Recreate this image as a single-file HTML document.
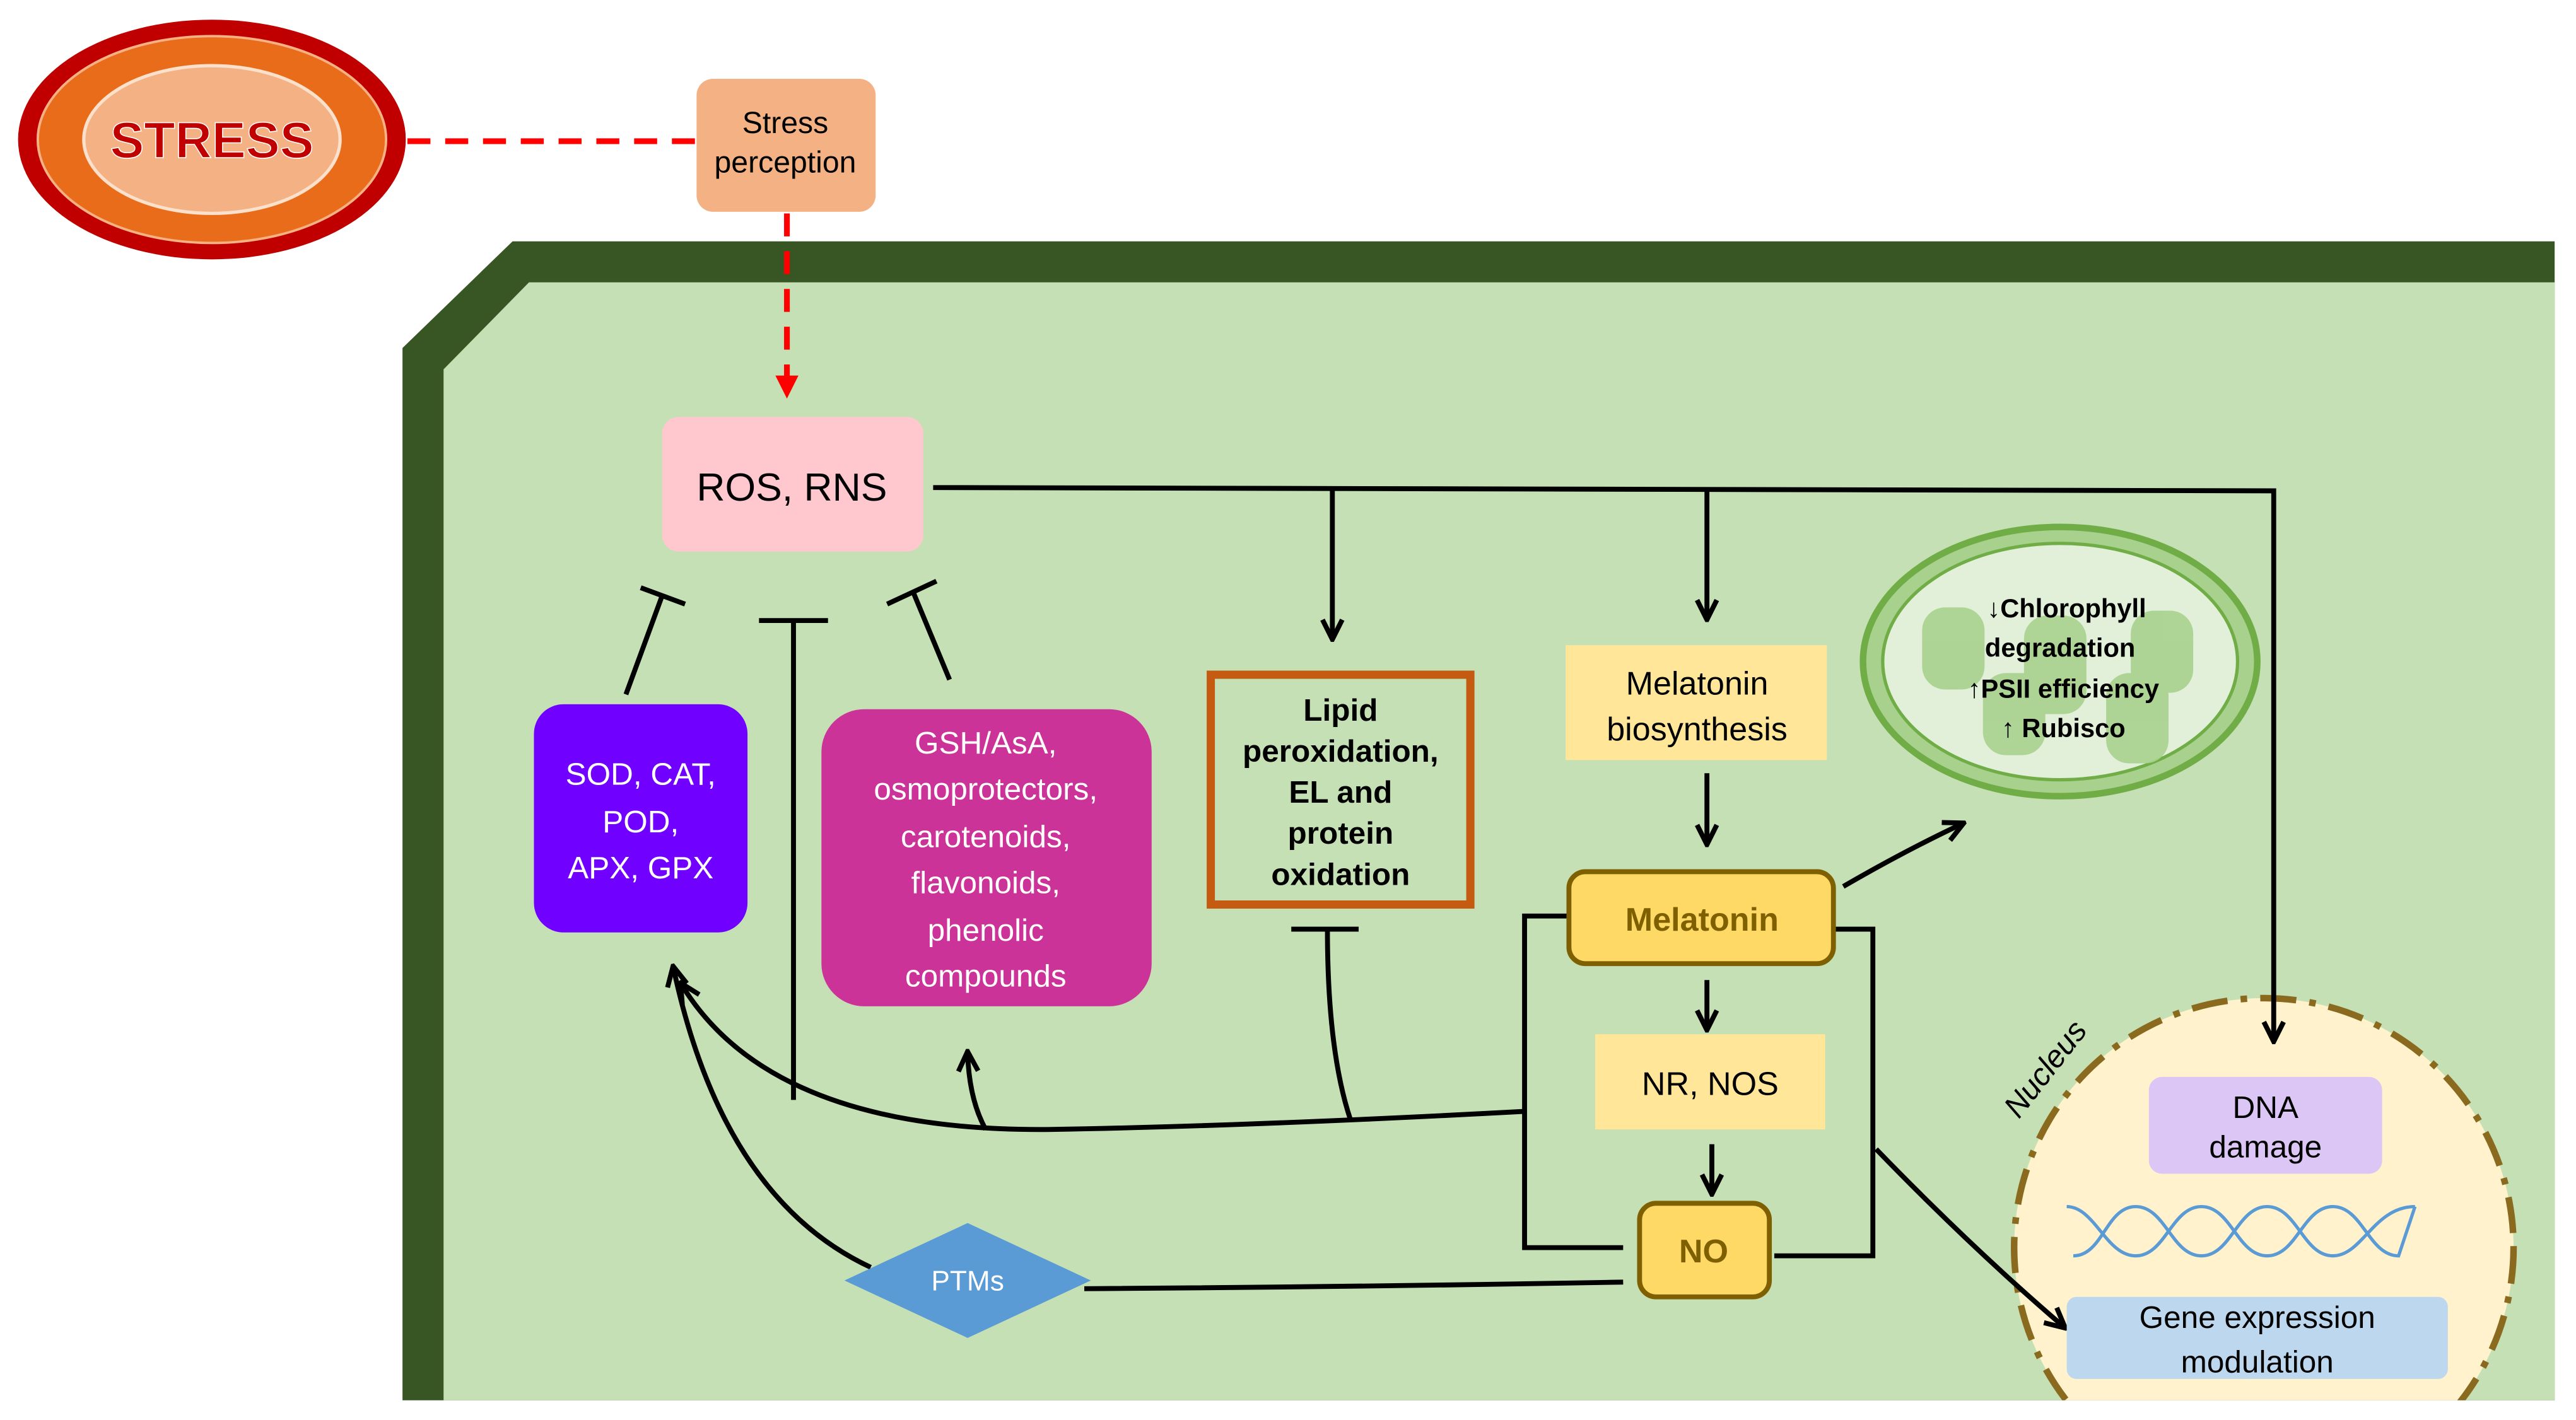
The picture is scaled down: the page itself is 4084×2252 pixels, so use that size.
<!DOCTYPE html>
<html><head><meta charset="utf-8"><style>
html,body{margin:0;padding:0;background:#fff;overflow:hidden;width:4084px;height:2252px;}
svg{display:block;}
text{font-family:"Liberation Sans",sans-serif;}
</style></head><body>
<svg width="4084" height="2252" viewBox="0 0 1568 865" preserveAspectRatio="none" xmlns="http://www.w3.org/2000/svg">
<defs>
<marker id="ah" viewBox="0 0 10 10" refX="8" refY="5" markerWidth="5" markerHeight="5" orient="auto-start-reverse"><path d="M1,1 L9,5 L1,9" fill="none" stroke="#000" stroke-width="2"/></marker>
<marker id="rh" viewBox="0 0 10 10" refX="8" refY="5" markerWidth="4" markerHeight="4" orient="auto"><path d="M0,0 L10,5 L0,10z" fill="#f00"/></marker>
<clipPath id="cp"><rect x="0" y="0" width="1555" height="853"/></clipPath>
</defs>
<polygon points="245,853 245,212 312,147 1555,147 1555,853" fill="#375623"/>
<polygon points="270,853 270,225 322,172 1555,172 1555,853" fill="#c5e0b4"/>
<g clip-path="url(#cp)">
<circle cx="1378" cy="760" r="152" fill="#fff2cc" stroke="#8a6a1f" stroke-width="4" stroke-dasharray="22,8,4,8"/>
</g>
<ellipse cx="129" cy="85" rx="118" ry="73" fill="#c00000"/>
<ellipse cx="129" cy="85" rx="106" ry="63" fill="#e96c1a" stroke="#f4b183" stroke-width="1.5"/>
<ellipse cx="129" cy="85" rx="78" ry="45" fill="#f4b183" stroke="#fbe0cc" stroke-width="2"/>
<text x="129" y="96" font-size="31" font-weight="bold" fill="#c00000" stroke="#fff" stroke-width="0.6" text-anchor="middle">STRESS</text>
<line x1="248" y1="86" x2="424" y2="86" stroke="#f00" stroke-width="3.5" stroke-dasharray="14,9"/>
<rect x="424" y="48" width="109" height="81" rx="10" fill="#f4b183"/>
<text x="478" y="81" font-size="18.5" text-anchor="middle">Stress</text>
<text x="478" y="105" font-size="18.5" text-anchor="middle">perception</text>
<line x1="479" y1="130" x2="479" y2="240" stroke="#f00" stroke-width="3.5" stroke-dasharray="14,9" marker-end="url(#rh)"/>
<rect x="403" y="254" width="159" height="82" rx="10" fill="#ffc7ce"/>
<text x="482" y="305" font-size="24" text-anchor="middle">ROS, RNS</text>
<g stroke="#000" stroke-width="3" fill="none">
<polyline points="568,297 1384,299 1384,633" marker-end="url(#ah)"/>
<line x1="811" y1="298" x2="811" y2="388" marker-end="url(#ah)"/>
<line x1="1039" y1="298" x2="1039" y2="376" marker-end="url(#ah)"/>
<line x1="1039" y1="471" x2="1039" y2="513" marker-end="url(#ah)"/>
<line x1="1039" y1="597" x2="1039" y2="626" marker-end="url(#ah)"/>
<line x1="1042" y1="697" x2="1042" y2="726" marker-end="url(#ah)"/>
<polyline points="955,558 928,558 928,760 988,760"/>
<polyline points="1116,566 1140,566 1140,765 1080,765"/>
<path d="M1122,540 Q1160,518 1194,502" marker-end="url(#ah)"/>
<path d="M1142,700 Q1200,760 1256,808" marker-end="url(#ah)"/>
<line x1="381" y1="423" x2="403" y2="363"/><line x1="390" y1="358" x2="417" y2="368"/>
<line x1="483" y1="670" x2="483" y2="378"/><line x1="462" y1="378" x2="504" y2="378"/>
<line x1="578" y1="414" x2="556" y2="361"/><line x1="540" y1="368" x2="570" y2="354"/>
<path d="M822,682 Q808,640 808,566"/><line x1="786" y1="566" x2="827" y2="566"/>
<path d="M928,677 Q760,686 640,688 Q470,690 415,600" marker-end="url(#ah)"/>
<path d="M600,688 Q590,670 589,642" marker-end="url(#ah)"/>
<path d="M530,772 Q440,730 410,590" marker-end="url(#ah)"/>
<path d="M660,785 Q820,784 988,781"/>
</g>
<rect x="325" y="429" width="130" height="139" rx="18" fill="#7000ff"/>
<g fill="#fff" font-size="19" text-anchor="middle">
<text x="390" y="478">SOD, CAT,</text><text x="390" y="507">POD,</text><text x="390" y="535">APX, GPX</text>
</g>
<rect x="500" y="432" width="201" height="181" rx="26" fill="#cc3399"/>
<g fill="#fff" font-size="19" text-anchor="middle">
<text x="600" y="459">GSH/AsA,</text><text x="600" y="487">osmoprotectors,</text><text x="600" y="516">carotenoids,</text><text x="600" y="544">flavonoids,</text><text x="600" y="573">phenolic</text><text x="600" y="601">compounds</text>
</g>
<rect x="737" y="411" width="158" height="140" fill="none" stroke="#c55a11" stroke-width="5"/>
<g font-size="19" font-weight="bold" text-anchor="middle">
<text x="816" y="439">Lipid</text><text x="816" y="464">peroxidation,</text><text x="816" y="489">EL and</text><text x="816" y="514">protein</text><text x="816" y="539">oxidation</text>
</g>
<rect x="953" y="393" width="159" height="70" fill="#ffe699"/>
<text x="1033" y="423" font-size="20" text-anchor="middle">Melatonin</text>
<text x="1033" y="451" font-size="20" text-anchor="middle">biosynthesis</text>
<rect x="955" y="531" width="161" height="56" rx="10" fill="#ffd966" stroke="#7f6000" stroke-width="3"/>
<text x="1036" y="567" font-size="20" font-weight="bold" fill="#7f6000" text-anchor="middle">Melatonin</text>
<rect x="971" y="630" width="140" height="58" fill="#ffe699"/>
<text x="1041" y="667" font-size="20" text-anchor="middle">NR, NOS</text>
<rect x="998" y="733" width="79" height="57" rx="10" fill="#ffd966" stroke="#7f6000" stroke-width="3"/>
<text x="1037" y="769" font-size="20" font-weight="bold" fill="#7f6000" text-anchor="middle">NO</text>
<polygon points="514,780 589,745 664,780 589,815" fill="#5b9bd5"/>
<text x="589" y="786" font-size="17" fill="#fff" text-anchor="middle">PTMs</text>
<ellipse cx="1254" cy="403" rx="120" ry="82" fill="#a9d18e" stroke="#70ad47" stroke-width="4"/>
<ellipse cx="1254" cy="403" rx="108" ry="72" fill="#e2f0d9" stroke="#70ad47" stroke-width="2"/>
<g fill="#a9d18e" opacity="0.9">
<rect x="1170" y="370" width="38" height="50" rx="14"/><rect x="1232" y="375" width="38" height="60" rx="14"/><rect x="1297" y="372" width="38" height="50" rx="14"/>
<rect x="1207" y="410" width="38" height="50" rx="14"/><rect x="1282" y="410" width="38" height="55" rx="14"/>
</g>
<g font-size="16" font-weight="bold" text-anchor="middle">
<text x="1258" y="376">↓Chlorophyll</text><text x="1254" y="400">degradation</text><text x="1256" y="425">↑PSII efficiency</text><text x="1256" y="449">↑ Rubisco</text>
</g>
<text x="1250" y="655" font-size="19" font-style="italic" text-anchor="middle" transform="rotate(-52 1250 655)">Nucleus</text>
<rect x="1308" y="656" width="142" height="59" rx="8" fill="#dcc6f5"/>
<text x="1379" y="681" font-size="19" text-anchor="middle">DNA</text>
<text x="1379" y="705" font-size="19" text-anchor="middle">damage</text>
<path d="M1258,735 C1275,735 1282,765 1300,765 C1318,765 1322,735 1340,735 C1358,735 1362,765 1380,765 C1398,765 1402,735 1420,735 C1438,735 1442,765 1460,765 L1470,735" fill="none" stroke="#5b9bd5" stroke-width="2"/>
<path d="M1262,765 C1280,765 1282,735 1300,735 C1318,735 1322,765 1340,765 C1358,765 1362,735 1380,735 C1398,735 1402,765 1420,765 C1438,765 1445,735 1470,735" fill="none" stroke="#5b9bd5" stroke-width="2"/>
<rect x="1258" y="790" width="232" height="50" rx="6" fill="#bdd7ee"/>
<text x="1374" y="809" font-size="19" text-anchor="middle">Gene expression</text>
<text x="1374" y="836" font-size="19" text-anchor="middle">modulation</text>
</svg>
</body></html>
